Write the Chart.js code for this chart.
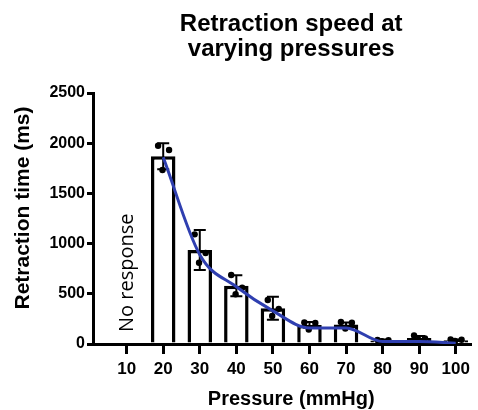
<!DOCTYPE html>
<html>
<head>
<meta charset="utf-8">
<script src="https://cdn.jsdelivr.net/npm/chart.js@4.4.1/dist/chart.umd.min.js"></script>
<style>
  html, body { margin: 0; padding: 0; background: #fff; }
  #wrap { width: 478px; height: 410px; position: relative; }
</style>
</head>
<body>
<div id="wrap"><canvas id="chart"></canvas></div>
<script>
// data
const pressures = [10, 20, 30, 40, 50, 60, 70, 80, 90, 100];
const meanTime = [null, 1870, 936, 581, 356, 190, 195, 35, 60, 38];
const sdTime = [null, 130, 200, 105, 115, 30, 20, 10, 20, 8];
const rep1 = [null, 1975, 1092, 687, 438, 215, 220, 40, 85, 45];
const rep2 = [null, 1932, 906, 560, 350, 210, 212, 38, 55, 42];
const rep3 = [null, 1733, 810, 496, 279, 145, 155, 28, 42, 30];
const fitTime = [null, 1860, 890, 570, 330, 160, 160, 25, 25, 8];
const yTicks = [0, 500, 1000, 1500, 2000, 2500];

const titleLines = ['Retraction speed at', 'varying pressures'];
const xTitle = 'Pressure (mmHg)';
const yTitle = 'Retraction time (ms)';
const noResponse = 'No response';

const FONT = "'Liberation Sans', Arial, sans-serif";
const BLUE = '#2f3fb0';
const jitter = [-1.4, 1.6, -0.2];

const barData = [];
const fitData = [];
const dotData = [];
pressures.forEach((p, i) => {
  if (meanTime[i] !== null) barData.push({ x: p, y: meanTime[i] });
  if (fitTime[i] !== null) fitData.push({ x: p, y: fitTime[i] });
  [rep1, rep2, rep3].forEach((rep, r) => {
    if (rep[i] !== null) dotData.push({ x: p + jitter[r], y: rep[i] });
  });
});

const errorBars = {
  id: 'errorBars',
  afterDatasetDraw(chart, args) {
    if (args.index !== 0) return;
    const { ctx, scales: { x, y } } = chart;
    ctx.save();
    ctx.strokeStyle = '#000';
    ctx.lineWidth = 2;
    pressures.forEach((p, i) => {
      if (meanTime[i] === null) return;
      const px = x.getPixelForValue(p);
      const top = y.getPixelForValue(meanTime[i] + sdTime[i]);
      const bot = y.getPixelForValue(meanTime[i] - sdTime[i]);
      ctx.beginPath();
      ctx.moveTo(px, top); ctx.lineTo(px, bot);
      ctx.moveTo(px - 6, top); ctx.lineTo(px + 6, top);
      ctx.moveTo(px - 6, bot); ctx.lineTo(px + 6, bot);
      ctx.stroke();
    });
    ctx.restore();
  }
};

const labels = {
  id: 'labels',
  afterDraw(chart) {
    const { ctx, scales: { x, y } } = chart;
    const cx = (x.getPixelForValue(pressures[0]) + x.getPixelForValue(pressures[pressures.length - 1])) / 2;
    ctx.save();
    ctx.fillStyle = '#000';
    ctx.textAlign = 'center';
    ctx.textBaseline = 'alphabetic';
    ctx.font = 'bold 24px ' + FONT;
    ctx.fillText(titleLines[0], cx, 31);
    ctx.fillText(titleLines[1], cx, 56);

    ctx.font = 'bold 20px ' + FONT;
    ctx.fillText(xTitle, cx, 405);

    ctx.save();
    ctx.translate(29, 208);
    ctx.rotate(-Math.PI / 2);
    ctx.font = 'bold 21px ' + FONT;
    ctx.fillText(yTitle, 0, 0);
    ctx.restore();

    // "No response" over the empty 10 mmHg slot
    ctx.save();
    ctx.translate(x.getPixelForValue(pressures[0]) + 6, y.getPixelForValue(120));
    ctx.rotate(-Math.PI / 2);
    ctx.textAlign = 'left';
    ctx.font = "20px 'Open Sans', sans-serif";
    ctx.fillText(noResponse, 0, 0);
    ctx.restore();
    ctx.restore();
  }
};

new Chart(document.getElementById('chart'), {
  type: 'bar',
  data: {
    datasets: [
      {
        type: 'bar',
        data: barData,
        backgroundColor: '#fff',
        borderColor: '#000',
        borderWidth: 3.5,
        categoryPercentage: 1,
        barPercentage: 0.67,
        order: 3
      },
      {
        type: 'scatter',
        data: dotData,
        backgroundColor: '#000',
        borderWidth: 0,
        pointRadius: 3.2,
        showLine: false,
        order: 2
      },
      {
        type: 'line',
        data: fitData,
        borderColor: BLUE,
        borderWidth: 3,
        pointRadius: 0,
        tension: 0.4,
        cubicInterpolationMode: 'monotone',
        fill: false,
        order: 1
      }
    ]
  },
  options: {
    responsive: true,
    maintainAspectRatio: false,
    animation: false,
    layout: { padding: { top: 93, right: 8, left: 0, bottom: 0 } },
    plugins: { legend: { display: false }, tooltip: { enabled: false }, title: { display: false } },
    scales: {
      x: {
        type: 'linear',
        min: 0.8,
        max: 103.9,
        offset: false,
        afterBuildTicks: s => { s.ticks = pressures.map(v => ({ value: v })); },
        afterFit: s => { s.height = 66; },
        border: { display: true, color: '#000', width: 3 },
        grid: { display: true, offset: false, drawOnChartArea: false, drawTicks: true, tickLength: 10, color: '#000', lineWidth: 3 },
        ticks: { color: '#000', padding: 5, maxRotation: 0, autoSkip: false, callback: v => String(v), font: { family: FONT, size: 17, weight: 'bold' } }
      },
      y: {
        type: 'linear',
        min: 0,
        max: 2500,
        afterBuildTicks: s => { s.ticks = yTicks.map(v => ({ value: v })); },
        afterFit: s => { s.width = 93; },
        border: { display: true, color: '#000', width: 3 },
        grid: { display: true, drawOnChartArea: false, drawTicks: true, tickLength: 6, color: '#000', lineWidth: 3 },
        ticks: { color: '#000', padding: 2, callback: v => String(v), font: { family: FONT, size: 16, weight: 'bold' } }
      }
    }
  },
  plugins: [errorBars, labels]
});
</script>
</body>
</html>
